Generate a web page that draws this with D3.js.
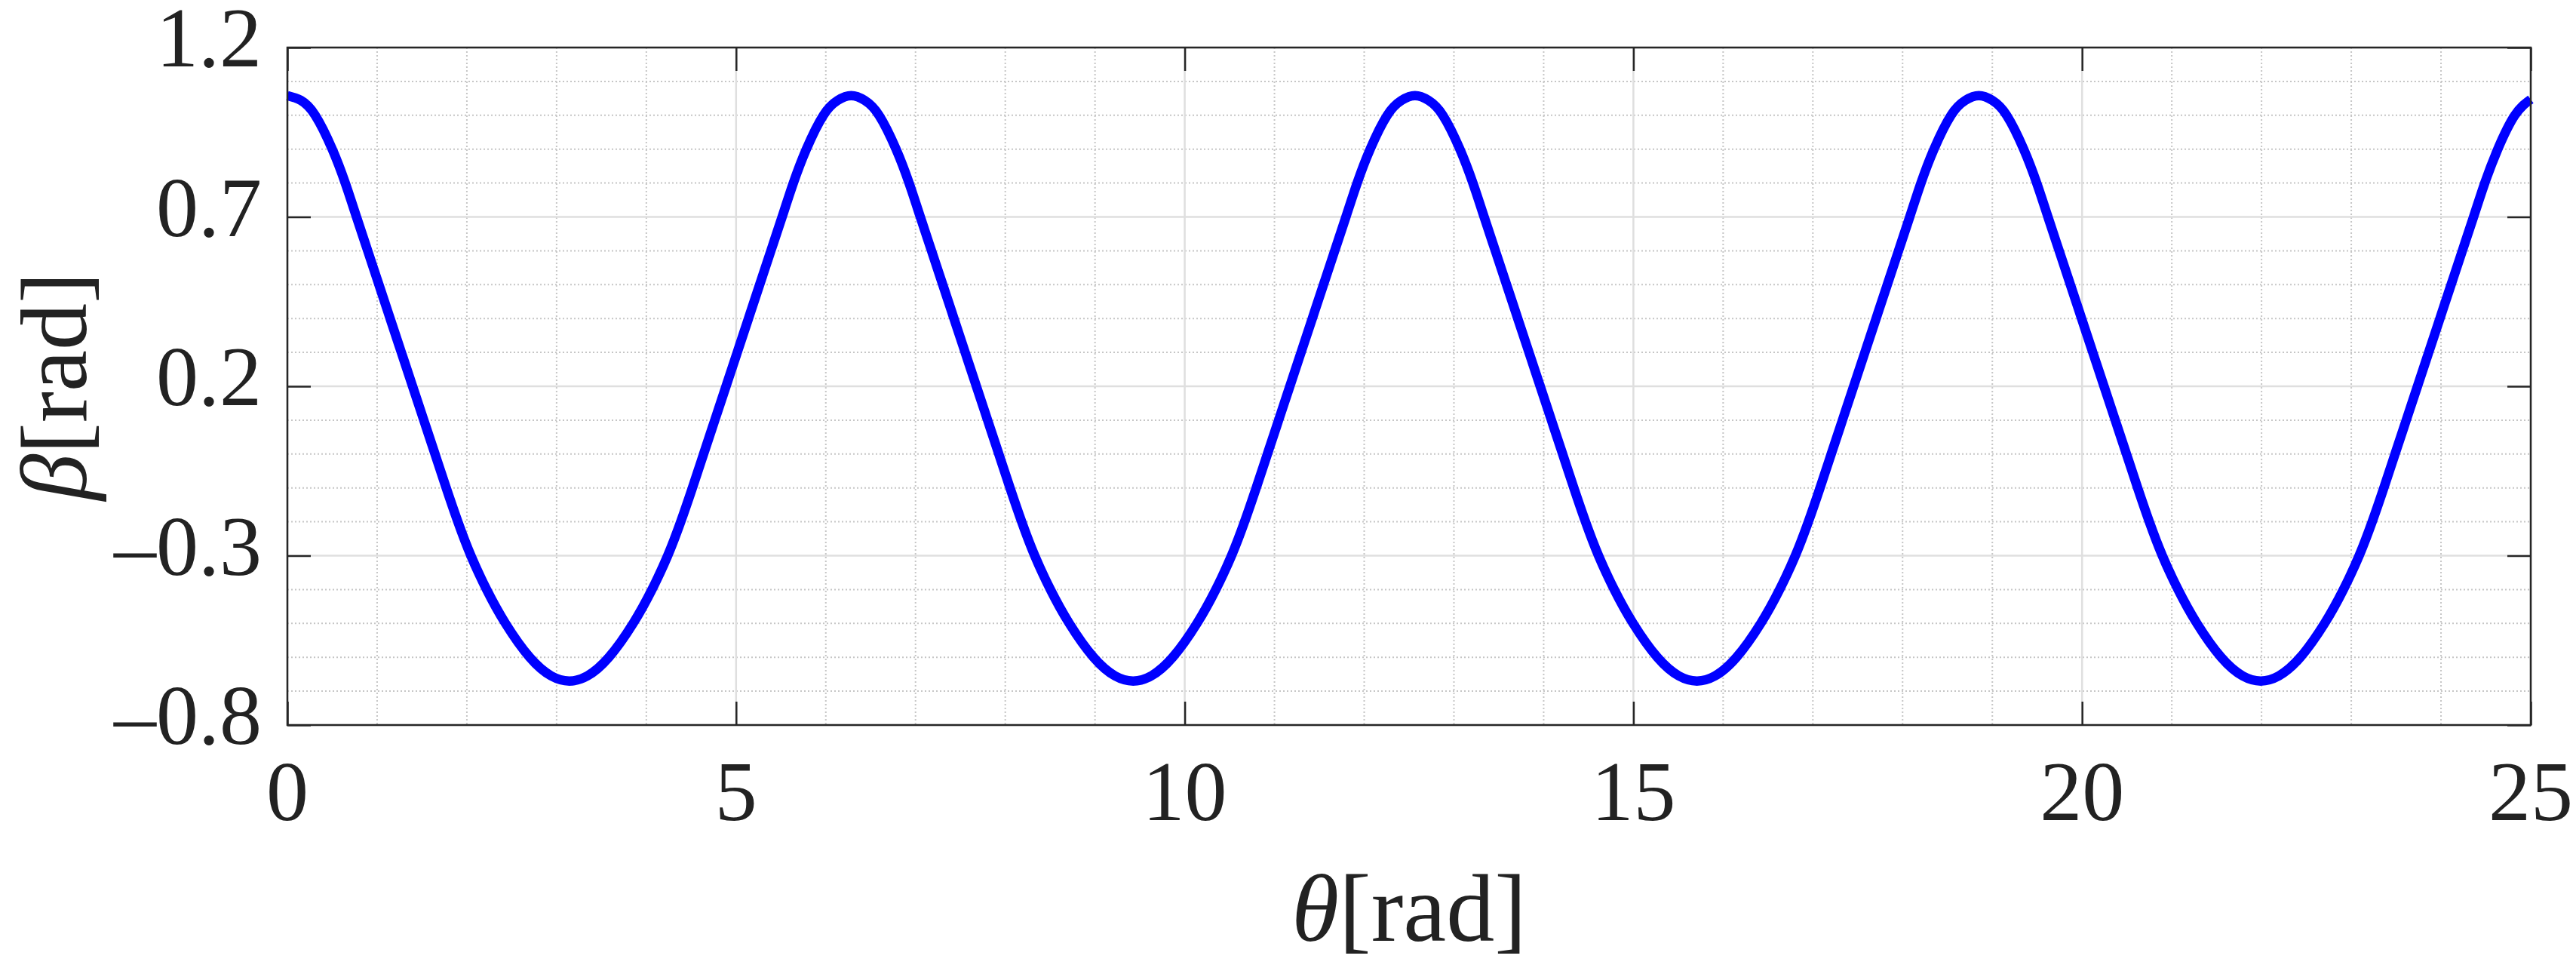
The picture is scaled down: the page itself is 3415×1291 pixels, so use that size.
<!DOCTYPE html>
<html>
<head>
<meta charset="utf-8">
<script src="https://cdn.jsdelivr.net/npm/d3@7"></script>
<style>
  html, body { margin: 0; padding: 0; background: #ffffff; }
  svg { display: block; }
  text { font-family: "Liberation Serif", "DejaVu Serif", serif; fill: #222222; }
</style>
</head>
<body>
<svg id="chart" width="3415" height="1291"></svg>
<script>
// ---- data ----
const theta = [
  0, 0.15, 0.31, 0.50, 0.645, 0.77, 0.895, 1.02, 1.145, 1.27, 1.395, 1.52, 1.645, 1.77, 1.90, 2.045, 2.22, 2.43, 2.70, 2.94, 3.1416,
  3.3432, 3.5832, 3.8532, 4.0632, 4.2382, 4.3832, 4.5132, 4.6382, 4.7632, 4.8882, 5.0132, 5.1382, 5.2632, 5.3882, 5.5132, 5.6382, 5.7832, 5.9732, 6.1332,
  6.2832, 6.4332, 6.5932, 6.7832, 6.9282, 7.0532, 7.1782, 7.3032, 7.4282, 7.5532, 7.6782, 7.8032, 7.9282, 8.0532, 8.1832, 8.3282, 8.5032, 8.7132, 8.9832, 9.2232, 9.4248,
  9.6264, 9.8664, 10.1364, 10.3464, 10.5214, 10.6664, 10.7964, 10.9214, 11.0464, 11.1714, 11.2964, 11.4214, 11.5464, 11.6714, 11.7964, 11.9214, 12.0664, 12.2564, 12.4164,
  12.5664, 12.7164, 12.8764, 13.0664, 13.2114, 13.3364, 13.4614, 13.5864, 13.7114, 13.8364, 13.9614, 14.0864, 14.2114, 14.3364, 14.4664, 14.6114, 14.7864, 14.9964, 15.2664, 15.5064, 15.7080,
  15.9096, 16.1496, 16.4196, 16.6296, 16.8046, 16.9496, 17.0796, 17.2046, 17.3296, 17.4546, 17.5796, 17.7046, 17.8296, 17.9546, 18.0796, 18.2046, 18.3496, 18.5396, 18.6996,
  18.8496, 18.9996, 19.1596, 19.3496, 19.4946, 19.6196, 19.7446, 19.8696, 19.9946, 20.1196, 20.2446, 20.3696, 20.4946, 20.6196, 20.7496, 20.8946, 21.0696, 21.2796, 21.5496, 21.7896, 21.9911,
  22.1927, 22.4327, 22.7027, 22.9127, 23.0877, 23.2327, 23.3627, 23.4877, 23.6127, 23.7377, 23.8627, 23.9877, 24.1127, 24.2377, 24.3627, 24.4877, 24.6327, 24.8227, 25.0
];
const beta = [
  1.058, 1.044, 1.0, 0.9, 0.8, 0.7, 0.6, 0.5, 0.4, 0.3, 0.2, 0.1, 0.0, -0.1, -0.2, -0.3, -0.4, -0.5, -0.6, -0.655, -0.670,
  -0.655, -0.6, -0.5, -0.4, -0.3, -0.2, -0.1, 0.0, 0.1, 0.2, 0.3, 0.4, 0.5, 0.6, 0.7, 0.8, 0.9, 1.0, 1.044,
  1.058, 1.044, 1.0, 0.9, 0.8, 0.7, 0.6, 0.5, 0.4, 0.3, 0.2, 0.1, 0.0, -0.1, -0.2, -0.3, -0.4, -0.5, -0.6, -0.655, -0.670,
  -0.655, -0.6, -0.5, -0.4, -0.3, -0.2, -0.1, 0.0, 0.1, 0.2, 0.3, 0.4, 0.5, 0.6, 0.7, 0.8, 0.9, 1.0, 1.044,
  1.058, 1.044, 1.0, 0.9, 0.8, 0.7, 0.6, 0.5, 0.4, 0.3, 0.2, 0.1, 0.0, -0.1, -0.2, -0.3, -0.4, -0.5, -0.6, -0.655, -0.670,
  -0.655, -0.6, -0.5, -0.4, -0.3, -0.2, -0.1, 0.0, 0.1, 0.2, 0.3, 0.4, 0.5, 0.6, 0.7, 0.8, 0.9, 1.0, 1.044,
  1.058, 1.044, 1.0, 0.9, 0.8, 0.7, 0.6, 0.5, 0.4, 0.3, 0.2, 0.1, 0.0, -0.1, -0.2, -0.3, -0.4, -0.5, -0.6, -0.655, -0.670,
  -0.655, -0.6, -0.5, -0.4, -0.3, -0.2, -0.1, 0.0, 0.1, 0.2, 0.3, 0.4, 0.5, 0.6, 0.7, 0.8, 0.9, 1.0, 1.047
];
const xTicks = [0, 5, 10, 15, 20, 25];
const yTicks = [-0.8, -0.3, 0.2, 0.7, 1.2];
const xMinor = [1, 2, 3, 4, 6, 7, 8, 9, 11, 12, 13, 14, 16, 17, 18, 19, 21, 22, 23, 24];
const yMinor = [-0.7, -0.6, -0.5, -0.4, -0.2, -0.1, 0.0, 0.1, 0.3, 0.4, 0.5, 0.6, 0.8, 0.9, 1.0, 1.1];
const xLabel = "θ", yLabel = "β", unit = "[rad]";

// ---- layout ----
const L = 381, R = 3355, T = 63, B = 961;
const x = d3.scaleLinear().domain([0, 25]).range([L, R]);
const y = d3.scaleLinear().domain([-0.8, 1.2]).range([B, T]);
const axisColor = "#262626";
const svg = d3.select("#chart");
svg.append("rect").attr("width", 3415).attr("height", 1291).attr("fill", "#ffffff");

// minor grid (dotted)
const gMinor = svg.append("g").attr("stroke", "#c6c6c6").attr("stroke-width", 2).attr("stroke-dasharray", "2,3");
gMinor.selectAll("line.vx").data(xMinor).join("line")
  .attr("x1", d => x(d)).attr("x2", d => x(d)).attr("y1", T).attr("y2", B);
gMinor.selectAll("line.hy").data(yMinor).join("line")
  .attr("x1", L).attr("x2", R).attr("y1", d => y(d)).attr("y2", d => y(d));

// major grid (solid, light)
const gMajor = svg.append("g").attr("stroke", "#dfdfdf").attr("stroke-width", 2.5);
gMajor.selectAll("line.vx").data(xTicks).join("line")
  .attr("x1", d => x(d)).attr("x2", d => x(d)).attr("y1", T).attr("y2", B);
gMajor.selectAll("line.hy").data(yTicks).join("line")
  .attr("x1", L).attr("x2", R).attr("y1", d => y(d)).attr("y2", d => y(d));

// data line
const line = d3.line().x((d, i) => x(theta[i])).y(d => y(d)).curve(d3.curveNatural);
svg.append("path").datum(beta)
  .attr("d", line)
  .attr("fill", "none")
  .attr("stroke", "#0000ff")
  .attr("stroke-width", 12.5)
  .attr("stroke-linejoin", "round");

// axes with inward ticks on all sides
function styleAxis(g) {
  g.select(".domain").remove();
  g.selectAll(".tick line").attr("stroke", axisColor).attr("stroke-width", 2.5);
  g.selectAll(".tick text").remove();
}
svg.append("g").attr("transform", `translate(0,${B})`)
  .call(d3.axisBottom(x).tickValues(xTicks).tickSizeInner(-31).tickSizeOuter(0)).call(styleAxis);
svg.append("g").attr("transform", `translate(0,${T})`)
  .call(d3.axisTop(x).tickValues(xTicks).tickSizeInner(-31).tickSizeOuter(0)).call(styleAxis);
svg.append("g").attr("transform", `translate(${L},0)`)
  .call(d3.axisLeft(y).tickValues(yTicks).tickSizeInner(-31).tickSizeOuter(0)).call(styleAxis);
svg.append("g").attr("transform", `translate(${R},0)`)
  .call(d3.axisRight(y).tickValues(yTicks).tickSizeInner(-31).tickSizeOuter(0)).call(styleAxis);

// box
svg.append("rect").attr("x", L).attr("y", T).attr("width", R - L).attr("height", B - T)
  .attr("fill", "none").attr("stroke", axisColor).attr("stroke-width", 2.5);

// tick labels
const fmt = d => (d < 0 ? "\u2013" + Math.abs(d) : String(d));
svg.append("g").selectAll("text").data(xTicks).join("text")
  .attr("x", d => x(d)).attr("y", 1087)
  .attr("text-anchor", "middle").attr("font-size", 112)
  .text(d => d);
svg.append("g").selectAll("text").data(yTicks).join("text")
  .attr("x", 347).attr("y", d => y(d) + 25)
  .attr("text-anchor", "end").attr("font-size", 112)
  .text(fmt);

// axis titles
const xt = svg.append("text").attr("x", (L + R) / 2).attr("y", 1247)
  .attr("text-anchor", "middle").attr("font-size", 128);
xt.append("tspan").attr("font-style", "italic").text(xLabel);
xt.append("tspan").text(unit);

const yt = svg.append("text").attr("transform", `translate(114,${(T + B) / 2}) rotate(-90)`)
  .attr("text-anchor", "middle").attr("font-size", 124);
yt.append("tspan").attr("font-style", "italic").text(yLabel);
yt.append("tspan").text(unit);
</script>
</body>
</html>
